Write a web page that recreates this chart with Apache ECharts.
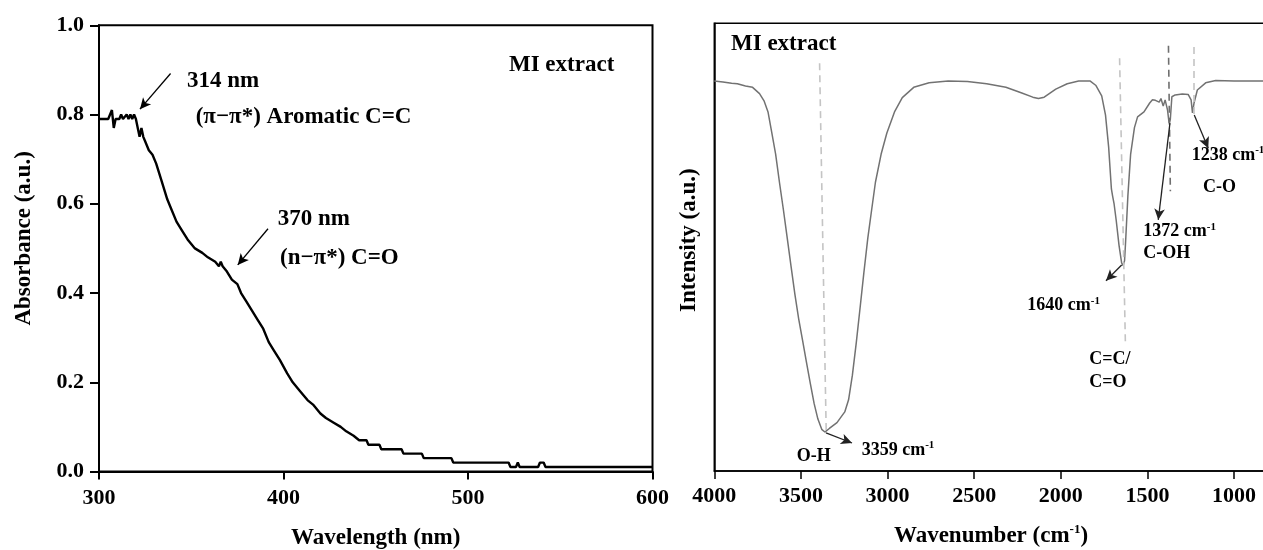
<!DOCTYPE html>
<html><head><meta charset="utf-8">
<script src="https://cdn.jsdelivr.net/npm/echarts@6/dist/echarts.min.js"></script>
<style>html,body{margin:0;padding:0;background:#fff}#c{width:1263px;height:550px}</style>
</head><body><div id="c"></div>
<script>
// ---- UV-Vis spectrum (left) ----
const uvWavelength = [300,303,305,306,307,308,309,311,312,313,314,315,316,317,318,319,320,321,322,323,324,325,327,329,331,334,337,339,342,345,348,352,356,359,363,365,366,367,368,369,370,372,375,377,380,383,386,389,392,395,398,402,405,409,413,416,420,423,427,431,434,438,441,445,446,452,453,464,465,475,476,491,492,522,523,526,527,528,538,539,541,542,600];
const uvAbsorbance = [0.79,0.79,0.79,0.80,0.81,0.77,0.79,0.79,0.80,0.79,0.79,0.80,0.79,0.80,0.79,0.80,0.79,0.77,0.75,0.77,0.75,0.74,0.72,0.71,0.69,0.65,0.61,0.59,0.56,0.54,0.52,0.50,0.49,0.48,0.47,0.46,0.47,0.46,0.46,0.45,0.45,0.43,0.42,0.40,0.38,0.36,0.34,0.32,0.29,0.27,0.25,0.22,0.20,0.18,0.16,0.15,0.13,0.12,0.11,0.10,0.09,0.08,0.07,0.07,0.06,0.06,0.05,0.05,0.04,0.04,0.03,0.03,0.02,0.02,0.01,0.01,0.02,0.01,0.01,0.02,0.02,0.01,0.01];
const uvXTicks = [300, 400, 500, 600];
const uvYTicks = [0.0, 0.2, 0.4, 0.6, 0.8, 1.0];

// ---- FTIR spectrum (right) ----
const irWavenumber = [4000,3950,3900,3867,3820,3779,3739,3712,3690,3668,3646,3624,3601,3579,3557,3535,3513,3491,3469,3447,3424,3402,3380,3362,3336,3292,3247,3225,3203,3181,3159,3137,3114,3092,3070,3037,3004,2960,2915,2849,2760,2650,2539,2428,2317,2229,2162,2129,2096,2029,1963,1897,1830,1797,1764,1742,1724,1708,1701,1693,1680,1664,1649,1640,1632,1626,1613,1597,1575,1557,1520,1487,1471,1454,1432,1422,1409,1398,1384,1375,1368,1359,1340,1299,1265,1248,1240,1231,1212,1164,1106,1000,856,833];
const irIntensity = [87.1,86.9,86.6,86.5,86.0,85.7,84.3,82.6,80.2,75.5,70.8,64.5,58.3,52.0,45.7,39.5,34.0,29.3,24.5,19.8,15.1,11.6,9.3,8.7,9.5,10.8,13.2,15.9,21.4,28.5,36.3,44.2,52.0,58.3,64.5,70.8,75.5,80.2,83.4,85.7,86.7,87.1,87.0,86.5,85.7,84.5,83.5,83.2,83.5,85.3,86.5,87.1,87.1,86.1,83.8,79.5,72.4,63.0,61.4,59.8,55.9,50.4,46.5,45.9,47.0,51.2,61.4,70.8,76.7,79.1,80.2,82.2,82.9,82.8,82.4,83.2,81.5,82.9,80.6,77.7,78.5,83.6,84.0,84.2,84.1,82.9,80.0,82.2,85.1,86.7,87.2,87.1,87.1,87.1];
const irXTicks = [4000, 3500, 3000, 2500, 2000, 1500, 1000];

// ---- annotations (data coordinates) ----
const uvNotes = [
  {text: '314 nm', x: 347.7, y: 0.876},
  {text: '(\u03c0\u2212\u03c0*) Aromatic C=C', x: 352.4, y: 0.794},
  {text: '370 nm', x: 396.9, y: 0.566},
  {text: '(n\u2212\u03c0*) C=O', x: 398.1, y: 0.479},
  {text: 'MI extract', x: 522.2, y: 0.912}
];
const uvArrows = [
  [[338.8, 0.892], [322.2, 0.812]],
  [[391.6, 0.544], [375.2, 0.463]]
];
const irNotes = [
  {text: 'MI extract', x: 3903.6, y: 95.4, big: true},
  {text: 'O-H', x: 3524.4, y: 3.2},
  {text: '3359 cm', sup: '-1', x: 3149.3, y: 4.7},
  {text: '1640 cm', sup: '-1', x: 2193.6, y: 36.9},
  {text: 'C=C/', x: 1835.8, y: 24.9},
  {text: 'C=O', x: 1835.8, y: 19.9},
  {text: '1372 cm', sup: '-1', x: 1524.1, y: 53.5},
  {text: 'C-OH', x: 1524.1, y: 48.6},
  {text: '1238 cm', sup: '-1', x: 1244.7, y: 70.6},
  {text: 'C-O', x: 1179.6, y: 63.4}
];
const irArrows = [
  [[3355.3, 8.5], [3205.2, 6.25]],
  [[1648.8, 46.0], [1739.4, 42.5]],
  [[1370, 77.7], [1437.6, 56.1]],
  [[1229.8, 79.5], [1149, 72.1]]
];
const irGuides = [
  {from: [3392.3, 91.1], to: [3354.2, 8.9], dark: false},
  {from: [1660.8, 92.2], to: [1627.4, 28.8], dark: false},
  {from: [1378.7, 95.0], to: [1367.7, 62.5], dark: true},
  {from: [1232.6, 94.7], to: [1232.6, 79.3], dark: false}
];

const F = "'Liberation Serif', 'Times New Roman', serif";
const txt = (size) => ({color: '#000', fontFamily: F, fontWeight: 'bold', fontSize: size});

const uvData = uvWavelength.map((w, i) => [w, uvAbsorbance[i]]);
const irData = irWavenumber.map((w, i) => [w, irIntensity[i]]);

const arrowLines = (arr, color) => arr.map(a => [
  {coord: a[0], symbol: 'none', lineStyle: {color: color, width: 1.3, type: 'solid'}},
  {coord: a[1], symbol: 'arrow', symbolSize: [8, 11]}
]);
const guideLines = irGuides.map(g => [
  {coord: g.from, symbol: 'none', lineStyle: {color: g.dark ? '#6f6f6f' : '#c4c4c4', width: 1.6, type: [7, 5]}},
  {coord: g.to, symbol: 'none'}
]);

const richStyles = {
  n: Object.assign(txt(18), {lineHeight: 20}),
  big: Object.assign(txt(23), {lineHeight: 26}),
  s: Object.assign(txt(11), {lineHeight: 11, verticalAlign: 'top'})
};

const chart = echarts.init(document.getElementById('c'), null, {renderer: 'canvas'});
chart.setOption({
  animation: false,
  backgroundColor: '#fff',
  grid: [
    {left: 99, top: 25.3, width: 553.5, height: 446.2, show: true, borderColor: '#000', borderWidth: 2,
     containLabel: false, outerBoundsMode: 'none'},
    {left: 714.3, top: 23.3, width: 606.4, height: 447.7, show: true, borderColor: '#000', borderWidth: 1.5,
     containLabel: false, outerBoundsMode: 'none'}
  ],
  xAxis: [
    {gridIndex: 0, type: 'value', min: uvXTicks[0], max: uvXTicks[uvXTicks.length - 1], interval: uvXTicks[1] - uvXTicks[0],
     axisLine: {lineStyle: {color: '#000', width: 2}},
     axisTick: {inside: false, length: 8, lineStyle: {color: '#000', width: 2}},
     splitLine: {show: false},
     axisLabel: Object.assign(txt(22), {margin: 16, formatter: v => String(v)}),
     name: 'Wavelength (nm)', nameLocation: 'middle', nameGap: 55, nameTextStyle: txt(23)},
    {gridIndex: 1, type: 'value', inverse: true, min: 500, max: irXTicks[0], interval: 500,
     axisLine: {lineStyle: {color: '#000', width: 1.5}},
     axisTick: {inside: false, length: 8, lineStyle: {color: '#000', width: 1.5}},
     splitLine: {show: false},
     axisLabel: Object.assign(txt(22), {margin: 14, formatter: v => String(v)}),
     name: '{a|Wavenumber (cm}{s|-1}{a|)}', nameLocation: 'middle', nameGap: 52,
     nameTextStyle: {padding: [0, 53, 0, 0], rich: {a: Object.assign(txt(23), {lineHeight: 26}), s: Object.assign(txt(13), {lineHeight: 13, verticalAlign: 'top'})}}}
  ],
  yAxis: [
    {gridIndex: 0, type: 'value', min: uvYTicks[0], max: uvYTicks[uvYTicks.length - 1], interval: 0.2,
     axisLine: {show: true, lineStyle: {color: '#000', width: 2}},
     axisTick: {show: true, inside: false, length: 9, lineStyle: {color: '#000', width: 2}},
     splitLine: {show: false},
     axisLabel: Object.assign(txt(22), {margin: 15, formatter: v => v.toFixed(1)}),
     name: 'Absorbance (a.u.)', nameLocation: 'middle', nameGap: 63,
     nameTextStyle: Object.assign(txt(23), {padding: [0, 0, 0, 20]})},
    {gridIndex: 1, type: 'value', min: 0, max: 100,
     axisLine: {show: true, lineStyle: {color: '#000', width: 1.5}},
     axisTick: {show: false}, axisLabel: {show: false}, splitLine: {show: false},
     name: 'Intensity (a.u.)', nameLocation: 'middle', nameGap: 14,
     nameTextStyle: Object.assign(txt(23), {padding: [0, 0, 0, 14]})}
  ],
  series: [
    {type: 'line', xAxisIndex: 0, yAxisIndex: 0, data: uvData, showSymbol: false, silent: true,
     lineStyle: {color: '#000', width: 2.4}, itemStyle: {color: '#000'},
     markLine: {silent: true, label: {show: false}, animation: false, data: arrowLines(uvArrows, '#000'),
       lineStyle: {color: '#000'}, itemStyle: {color: '#000'}}},
    {type: 'line', xAxisIndex: 1, yAxisIndex: 1, data: irData, showSymbol: false, silent: true,
     lineStyle: {color: '#727272', width: 1.5}, itemStyle: {color: '#727272'}, z: 3,
     markLine: {silent: true, label: {show: false}, animation: false,
       data: guideLines.concat(arrowLines(irArrows, '#222')),
       lineStyle: {color: '#222'}, itemStyle: {color: '#222'}}},
    {type: 'scatter', xAxisIndex: 0, yAxisIndex: 0, symbolSize: 0, silent: true,
     itemStyle: {color: '#000'},
     data: uvNotes.map(n => ({value: [n.x, n.y], name: n.text})),
     label: {show: true, position: 'right', distance: 0, color: '#000', opacity: 1,
             formatter: p => '{big|' + p.name + '}', rich: richStyles}},
    {type: 'scatter', xAxisIndex: 1, yAxisIndex: 1, symbolSize: 0, silent: true,
     itemStyle: {color: '#000'},
     data: irNotes.map(n => ({value: [n.x, n.y], name: n.big ? '{big|' + n.text + '}' : ('{n|' + n.text + '}' + (n.sup ? '{s|' + n.sup + '}' : ''))})),
     label: {show: true, position: 'right', distance: 0, color: '#000', opacity: 1,
             formatter: p => p.name, rich: richStyles}}
  ]
});
</script>
</body></html>
